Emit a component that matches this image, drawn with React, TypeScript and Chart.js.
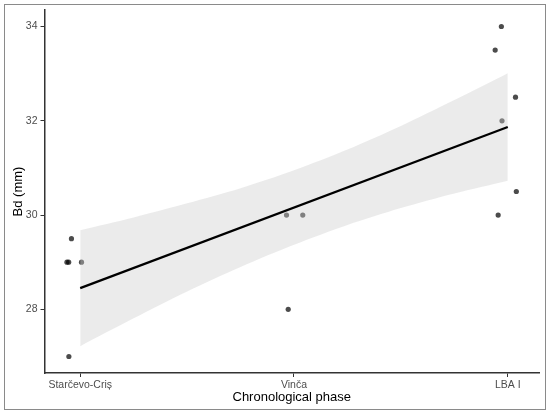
import React, { useEffect, useRef } from 'react';
import Chart from 'chart.js/auto';

// categories on the x axis (positions 1, 2, 3)
const categories = ['Starčevo-Criș', 'Vinča', 'LBA I'];
const categoryPos = [1, 2, 3];

// jittered observations
const pointX = [0.959, 0.938, 0.946, 1.006, 0.947, 1.965, 2.041, 1.973, 2.970, 2.941, 3.036, 2.973, 3.040, 2.955];
const pointY = [29.5, 29.0, 29.0, 29.0, 27.0, 30.0, 30.0, 28.0, 34.0, 33.5, 32.5, 32.0, 30.5, 30.0];

// fitted line (read at both ends)
const fitX = [1, 3];
const fitY = [28.45, 31.87];

// confidence band
const bandX = [1, 1.25, 1.5, 1.75, 2, 2.25, 2.5, 2.75, 3];
const bandUpper = [29.68, 29.95, 30.25, 30.57, 30.95, 31.39, 31.89, 32.44, 33.01];
const bandLower = [27.22, 27.81, 28.38, 28.90, 29.37, 29.79, 30.15, 30.46, 30.73];

const yTicks = [28, 30, 32, 34];

export default function App() {
    const chartRef = useRef<HTMLCanvasElement | null>(null);
    const chartInstance = useRef<Chart | null>(null);

    useEffect(() => {
        if (!chartRef.current) return;
        if (chartInstance.current) chartInstance.current.destroy();
        const ctx = chartRef.current.getContext('2d');
        if (!ctx) return;

        const axisColor = '#333333';
        const tickText = '#4d4d4d';
        const family = '"Liberation Sans", Arial, sans-serif';

        chartInstance.current = new Chart(ctx, {
            type: 'scatter',
            data: {
                datasets: [
                    {
                        type: 'line',
                        label: 'fit',
                        data: fitX.map((x, i) => ({ x, y: fitY[i] })),
                        borderColor: '#000000',
                        borderWidth: 2.2,
                        pointRadius: 0,
                        fill: false,
                    },
                    {
                        type: 'line',
                        label: 'upper',
                        data: bandX.map((x, i) => ({ x, y: bandUpper[i] })),
                        borderWidth: 0,
                        borderColor: 'rgba(0,0,0,0)',
                        backgroundColor: 'rgba(205,205,205,0.4)',
                        pointRadius: 0,
                        tension: 0.3,
                        fill: '+1',
                    },
                    {
                        type: 'line',
                        label: 'lower',
                        data: bandX.map((x, i) => ({ x, y: bandLower[i] })),
                        borderWidth: 0,
                        borderColor: 'rgba(0,0,0,0)',
                        pointRadius: 0,
                        tension: 0.3,
                        fill: false,
                    },
                    {
                        label: 'Bd',
                        data: pointX.map((x, i) => ({ x, y: pointY[i] })),
                        backgroundColor: 'rgba(0,0,0,0.7)',
                        borderWidth: 0,
                        pointRadius: 2.6,
                    },
                ],
            },
            options: {
                animation: false,
                responsive: true,
                maintainAspectRatio: false,
                layout: { padding: { top: 10, right: 11, left: 0, bottom: 0 } },
                plugins: {
                    legend: { display: false },
                    tooltip: { enabled: false },
                },
                scales: {
                    x: {
                        type: 'linear',
                        min: 0.833,
                        max: 3.146,
                        afterBuildTicks: (scale) => {
                            scale.ticks = categoryPos.map((v) => ({ value: v }));
                        },
                        afterFit: (scale) => {
                            scale.height = 42;
                        },
                        ticks: {
                            autoSkip: false,
                            maxRotation: 0,
                            padding: 2,
                            color: tickText,
                            font: { family, size: 10.5 },
                            callback: (v) => categories[categoryPos.indexOf(Number(v))] ?? '',
                        },
                        grid: {
                            display: true,
                            drawOnChartArea: false,
                            drawTicks: true,
                            tickLength: 4,
                            color: axisColor,
                            tickColor: axisColor,
                            lineWidth: 1,
                        },
                        border: { display: true, color: axisColor, width: 1.5 },
                        title: {
                            display: true,
                            text: 'Chronological phase',
                            color: '#000000',
                            font: { family, size: 13 },
                            padding: { top: 0, bottom: 10 },
                        },
                    },
                    y: {
                        min: 26.65,
                        max: 34.35,
                        afterBuildTicks: (scale) => {
                            scale.ticks = yTicks.map((v) => ({ value: v }));
                        },
                        afterFit: (scale) => {
                            scale.width = 44.5;
                        },
                        ticks: {
                            padding: 3,
                            color: tickText,
                            font: { family, size: 10.5 },
                        },
                        grid: {
                            display: true,
                            drawOnChartArea: false,
                            drawTicks: true,
                            tickLength: 4,
                            color: axisColor,
                            tickColor: axisColor,
                            lineWidth: 1,
                        },
                        border: { display: true, color: axisColor, width: 1.5 },
                        title: {
                            display: true,
                            text: 'Bd (mm)',
                            color: '#000000',
                            font: { family, size: 13 },
                            padding: { top: 11, bottom: 0 },
                        },
                    },
                },
            },
        });

        return () => {
            if (chartInstance.current) {
                chartInstance.current.destroy();
                chartInstance.current = null;
            }
        };
    }, []);

    return (
        <div style={{ position: 'fixed', left: 0, top: 0, width: 550, height: 415, background: '#ffffff' }}>
            <div
                style={{
                    position: 'absolute',
                    left: 4,
                    top: 4,
                    width: 540,
                    height: 404,
                    border: '1px solid #8a8a8a',
                }}
            />
            <div style={{ position: 'absolute', left: 0, top: 0, width: 550, height: 415 }}>
                <canvas ref={chartRef}></canvas>
            </div>
        </div>
    );
}
